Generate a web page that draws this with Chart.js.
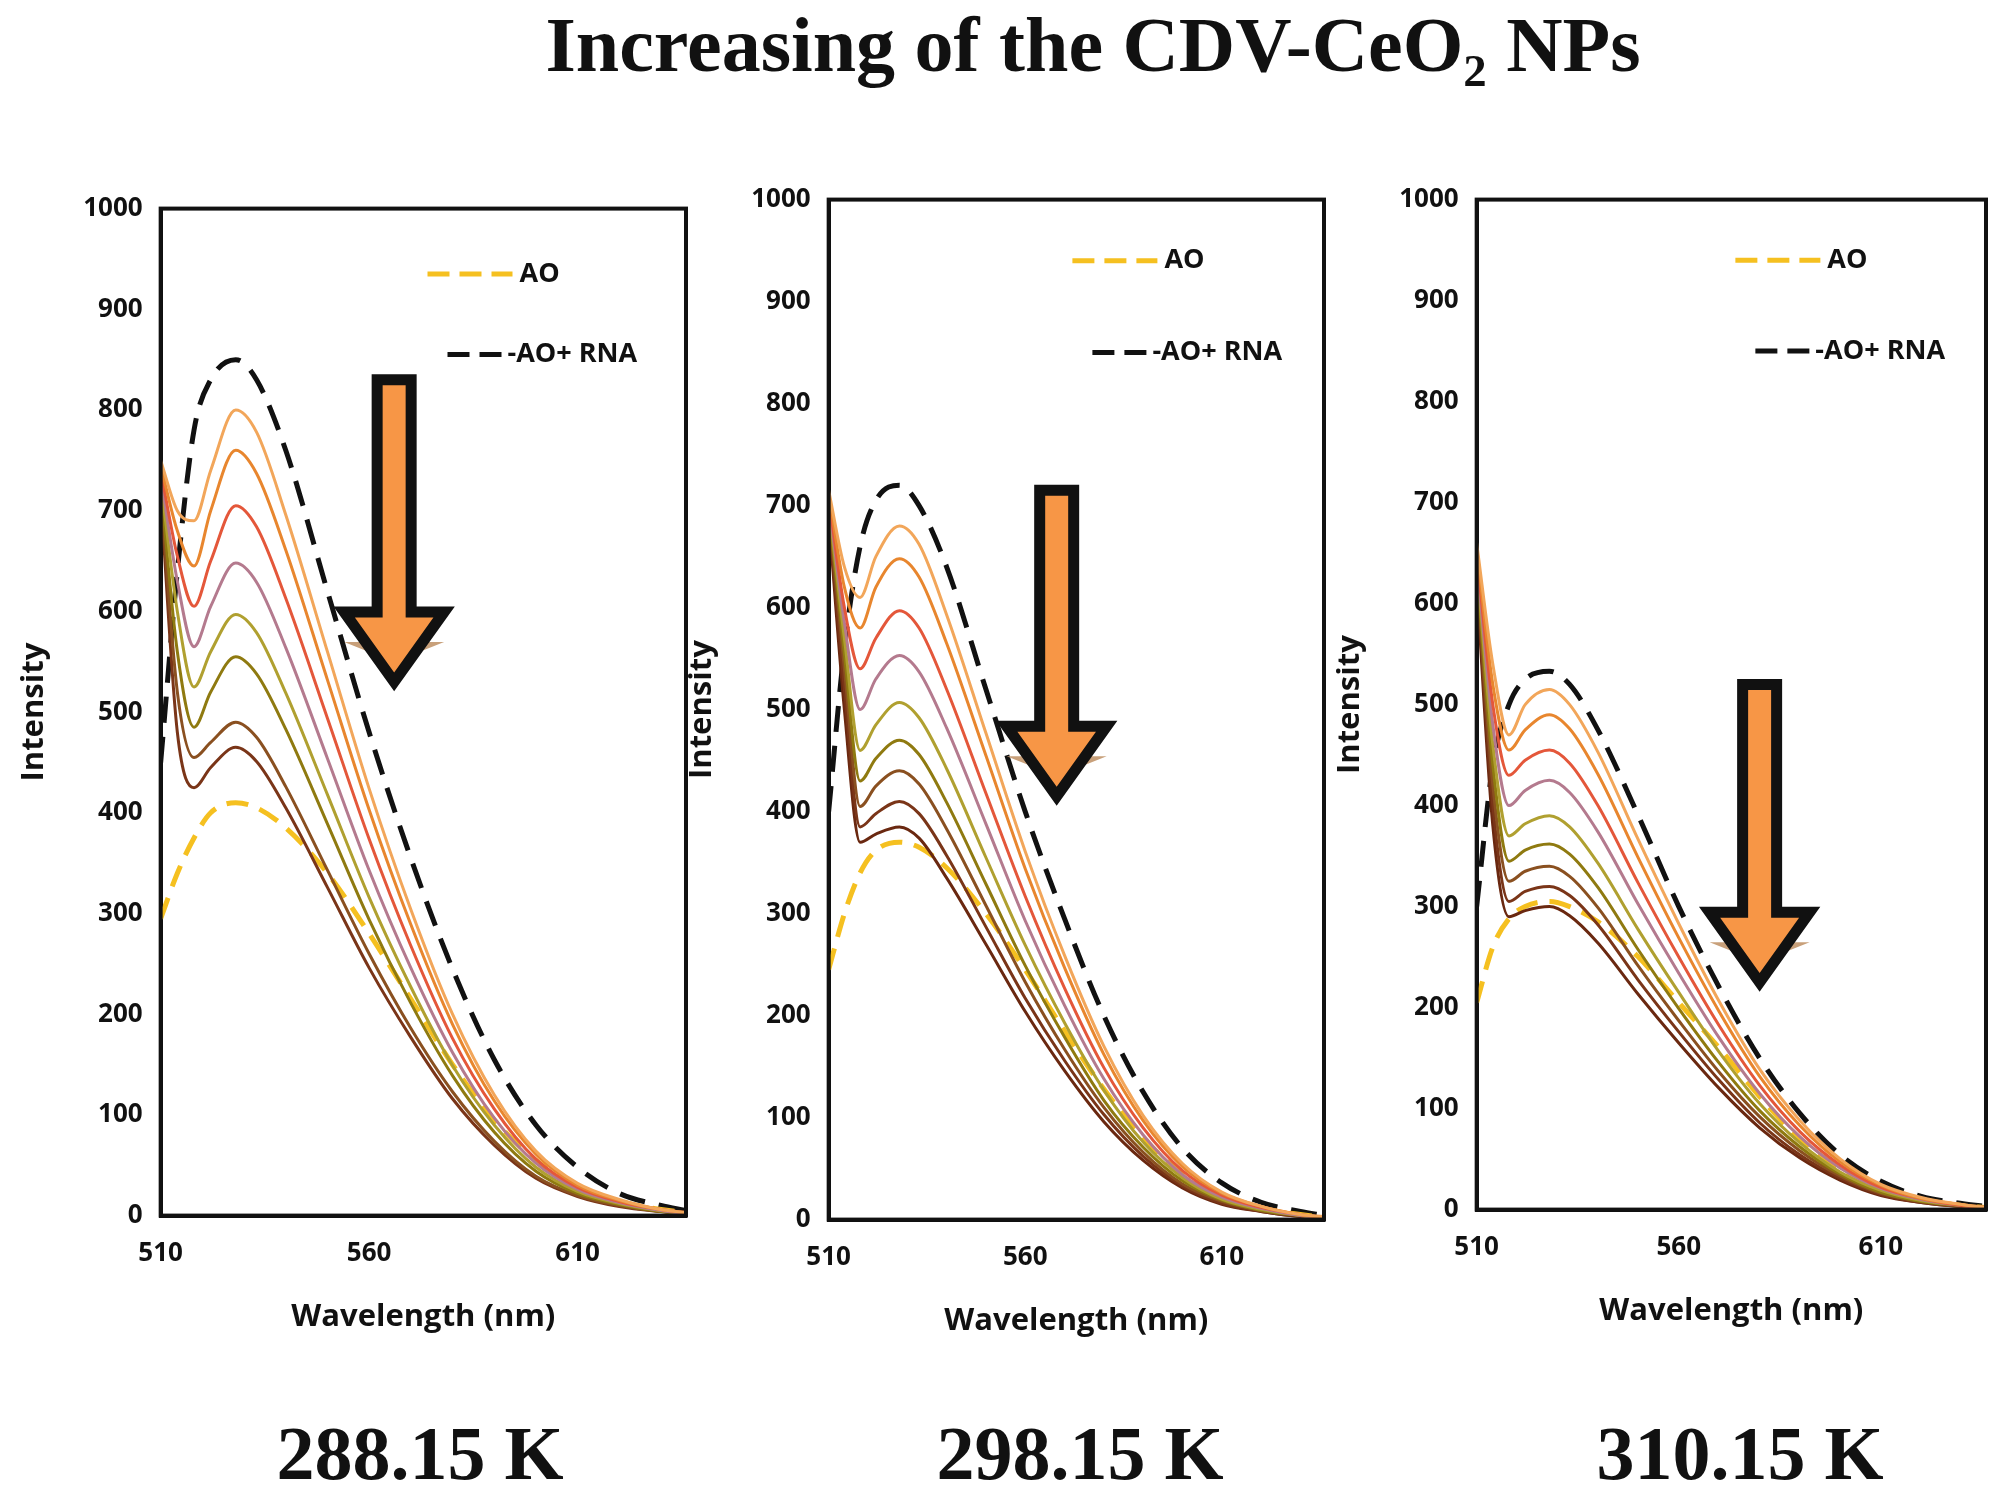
<!DOCTYPE html>
<html><head><meta charset="utf-8">
<script src="https://cdn.jsdelivr.net/npm/chart.js@4.4.0/dist/chart.umd.min.js"></script>
<style>
body{margin:0;width:2000px;height:1505px;background:#fff;position:relative;overflow:hidden}
.t{position:absolute;font-family:"Liberation Serif",serif;font-weight:bold;color:#111;text-align:center}
.c{position:absolute}
</style></head><body>
<div class="t" style="left:93px;width:2000px;top:0px;font-size:78px">Increasing of the CDV-CeO₂ NPs</div>
<div class="c" style="left:12px;top:175px;width:688px;height:1165px"><canvas id="c1"></canvas></div>
<div class="c" style="left:680px;top:166px;width:658px;height:1178px"><canvas id="c2"></canvas></div>
<div class="c" style="left:1328px;top:166px;width:672px;height:1168px"><canvas id="c3"></canvas></div>
<div class="t" style="left:160px;width:520px;top:1410px;font-size:76px">288.15 K</div>
<div class="t" style="left:820px;width:520px;top:1410px;font-size:76px">298.15 K</div>
<div class="t" style="left:1480px;width:520px;top:1410px;font-size:76px">310.15 K</div>
<script>
const wavelengths=[510,514,518,522,528,533,540,550,560,570,580,590,600,610,620,630,636];
const colors=["#f2a65a","#e8862e","#e4573a","#b47a8e","#b0a030","#8f7a10","#8a5020","#7a3518","#6a2810"];
// Panel 1 (288.15 K)
const p1AO=[295,340,375,400,410,405,385,340,280,215,150,95,55,28,14,6,3];
const p1RNA=[450,640,780,830,850,830,760,620,480,355,245,155,90,48,22,10,5];
const p1Series=[
[750,700,690,740,800,778,696,560,424,304,200,120,64,32,16,6,3],
[745,680,645,700,760,737,661,532,403,289,190,114,61,30,15,6,3],
[740,655,605,650,705,684,613,494,374,268,176,106,56,28,14,6,3],
[735,630,565,605,648,629,564,454,343,246,162,97,52,26,13,5,2],
[730,600,525,560,597,579,519,418,316,227,149,90,48,24,12,5,2],
[725,560,485,520,555,538,483,389,294,211,139,83,44,22,11,4,2],
[720,520,455,470,490,475,426,343,260,186,123,74,39,20,10,4,2],
[715,480,425,445,465,451,405,326,246,177,116,70,37,19,9,4,2]];
// Panel 2 (298.15 K)
const p2AO=[245,300,340,362,370,365,345,300,245,185,128,80,45,22,11,5,2];
const p2RNA=[400,560,660,705,720,700,640,520,400,295,200,125,70,36,17,8,4];
const p2Series=[
[715,640,610,650,680,662,593,477,361,259,170,102,55,27,13,5,3],
[712,620,580,620,648,630,565,455,344,247,162,97,52,26,13,5,2],
[708,600,540,570,597,580,520,418,317,227,149,90,48,24,12,5,2],
[705,585,500,530,553,537,482,388,293,210,138,83,44,22,11,4,2],
[702,570,460,485,507,492,442,355,269,193,127,76,41,20,10,4,2],
[698,555,430,452,470,456,409,329,249,179,117,71,38,19,9,4,2],
[695,540,405,425,440,427,383,308,233,167,110,66,35,18,9,4,2],
[692,520,385,398,410,398,357,287,217,156,103,62,33,16,8,3,2],
[690,500,370,378,385,374,335,270,204,146,96,58,31,15,8,3,2]];
// Panel 3 (310.15 K)
const p3AO=[205,260,288,300,305,300,285,250,205,160,112,70,40,20,10,4,2];
const p3RNA=[300,440,500,525,533,520,475,390,300,220,150,95,54,28,13,6,3];
const p3Series=[
[660,540,470,500,515,500,453,366,283,206,139,88,50,25,12,5,2],
[655,520,455,475,490,476,431,348,269,196,132,83,47,24,11,5,2],
[650,500,430,445,455,442,400,323,250,182,123,77,44,22,11,4,2],
[645,480,400,415,425,413,374,302,234,170,115,72,41,21,10,4,2],
[640,460,370,382,390,379,343,277,215,156,105,66,37,19,9,4,2],
[635,440,345,356,362,352,319,257,199,145,98,62,35,17,8,4,2],
[630,420,325,335,340,330,299,241,187,136,92,58,33,16,8,3,2],
[625,400,305,315,320,311,282,227,176,128,86,54,31,15,7,3,2],
[620,380,290,296,300,291,264,213,165,120,81,51,29,14,7,3,2]];
const xTicks=[510,560,610];
const yTicks=[0,100,200,300,400,500,600,700,800,900,1000];

function arrowPlugin(ax,yTop,yBot,leg){return{id:'arr',afterDatasetsDraw(ch){
 const c=ch.ctx,xs=ch.scales.x,ys=ch.scales.y;
 const x=xs.getPixelForValue(ax),t=ys.getPixelForValue(yTop),b=ys.getPixelForValue(yBot);
 const hw=17,hh=50,hbw=50;
 c.save();
 c.fillStyle='#c8a07a';c.beginPath();c.moveTo(x-hbw,b-hh+10);c.lineTo(x+hbw,b-hh+10);c.lineTo(x,b-hh+30);c.closePath();c.fill();
 c.beginPath();c.moveTo(x-hw,t);c.lineTo(x+hw,t);c.lineTo(x+hw,b-hh-20);c.lineTo(x+hbw,b-hh-20);c.lineTo(x,b);c.lineTo(x-hbw,b-hh-20);c.lineTo(x-hw,b-hh-20);c.closePath();
 c.fillStyle='#f79646';c.fill();c.lineWidth=11;c.strokeStyle='#111';c.lineJoin='miter';c.stroke();
 const lx=xs.getPixelForValue(leg[0]);
 c.font='bold 27px "Open Sans",sans-serif';c.textBaseline='middle';
 c.setLineDash([22,10]);c.lineWidth=5;
 c.strokeStyle='#f5c020';c.beginPath();c.moveTo(lx,ys.getPixelForValue(leg[1]));c.lineTo(lx+85,ys.getPixelForValue(leg[1]));c.stroke();
 c.strokeStyle='#111';c.beginPath();c.moveTo(lx+20,ys.getPixelForValue(leg[2]));c.lineTo(lx+75,ys.getPixelForValue(leg[2]));c.stroke();
 c.setLineDash([]);c.fillStyle='#111';
 c.fillText('AO',lx+92,ys.getPixelForValue(leg[1]));
 c.fillText('-AO+ RNA',lx+80,ys.getPixelForValue(leg[2]));
 c.restore();
}}}
function make(id,ao,rna,series,arrow,leg){
 const ds=series.map((s,i)=>({data:s.map((v,j)=>({x:wavelengths[j],y:v})),borderColor:colors[i],borderWidth:3,pointRadius:0,cubicInterpolationMode:'monotone'}));
 ds.push({data:ao.map((v,j)=>({x:wavelengths[j],y:v})),borderColor:'#f5c020',borderWidth:5,borderDash:[22,12],pointRadius:0,cubicInterpolationMode:'monotone'});
 ds.push({data:rna.map((v,j)=>({x:wavelengths[j],y:v})),borderColor:'#111',borderWidth:5,borderDash:[26,14],pointRadius:0,cubicInterpolationMode:'monotone'});
 const f={family:'"Open Sans",sans-serif',weight:'bold',size:26};
 new Chart(document.getElementById(id),{type:'line',data:{datasets:ds},
 options:{responsive:true,maintainAspectRatio:false,animation:false,layout:{padding:{right:14,top:10}},
 plugins:{legend:{display:false},tooltip:{enabled:false}},
 scales:{x:{type:'linear',min:510,max:636,afterBuildTicks:a=>{a.ticks=xTicks.map(v=>({value:v}))},
   grid:{display:false,drawTicks:false},border:{color:'#111',width:4},ticks:{color:'#111',font:f,padding:22,callback:v=>String(v)},
   title:{display:true,text:'Wavelength (nm)',color:'#111',font:{...f,size:31,weight:'bold'},padding:{top:8}}},
  y:{min:0,max:1000,afterBuildTicks:a=>{a.ticks=yTicks.map(v=>({value:v}))},
   grid:{display:false,drawTicks:false},border:{color:'#111',width:4},ticks:{color:'#111',font:f,padding:18,callback:v=>String(v)},
   title:{display:true,text:'Intensity',color:'#111',font:{...f,size:31,weight:'bold'},padding:{bottom:12}}}}},
 plugins:[arrowPlugin(arrow[0],arrow[1],arrow[2],leg),{id:'box',afterDraw(ch){const a=ch.chartArea,c=ch.ctx;c.save();c.strokeStyle='#111';c.lineWidth=4;c.strokeRect(a.left,a.top,a.right-a.left,a.bottom-a.top);c.restore();}}]});
}
make('c1',p1AO,p1RNA,p1Series,[566,830,530],[574,935,855]);
make('c2',p2AO,p2RNA,p2Series,[568,715,415],[572,940,850]);
make('c3',p3AO,p3RNA,p3Series,[580,520,225],[574,940,850]);
</script></body></html>
